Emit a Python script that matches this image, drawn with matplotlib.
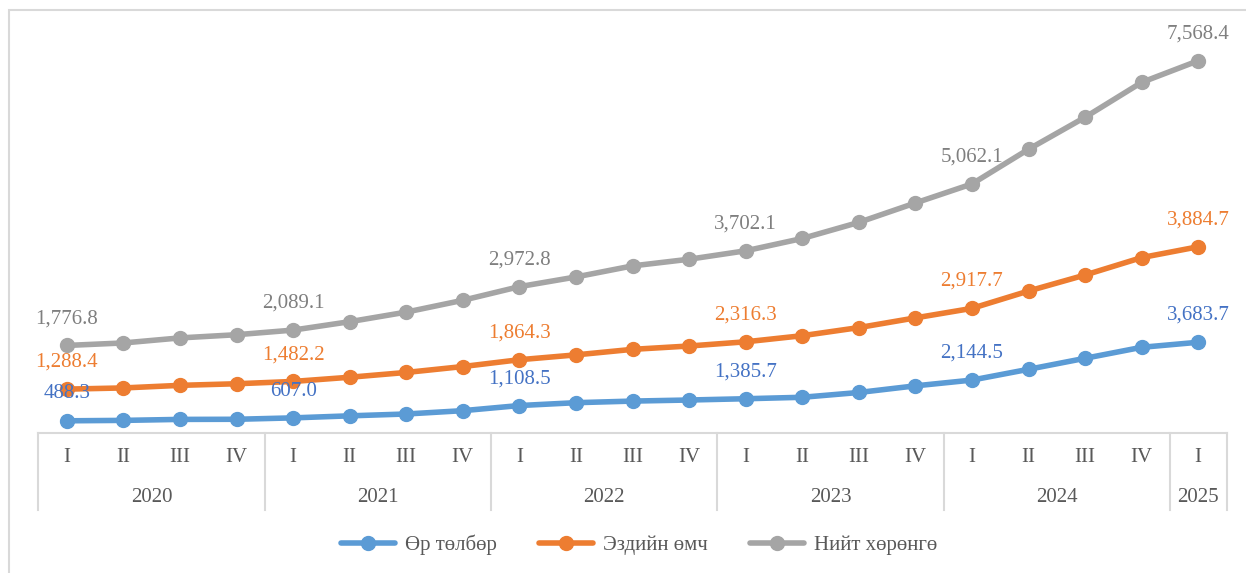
import matplotlib
matplotlib.use("Agg")
import matplotlib.pyplot as plt
import matplotlib.transforms as mtransforms
from matplotlib.patches import Rectangle
import numpy as np

plt.rcParams['font.family'] = ['Liberation Serif', 'DejaVu Serif']

years = ["2020", "2021", "2022", "2023", "2024", "2025"]
quarters = ["I", "II", "III", "IV", "I", "II", "III", "IV", "I", "II", "III", "IV",
            "I", "II", "III", "IV", "I", "II", "III", "IV", "I"]
series_names = ["Өр төлбөр", "Эздийн өмч", "Нийт хөрөнгө"]

debt = [488.3, 505, 545, 550, 607.0, 690, 765, 900, 1108.5, 1225, 1290, 1334,
        1385.7, 1445, 1640, 1910, 2144.5, 2583, 3031, 3478, 3683.7]
equity = [1288.4, 1320, 1385, 1445, 1482.2, 1570, 1690, 1795, 1864.3, 1945, 2105, 2197,
          2316.3, 2505, 2640, 2765, 2917.7, 3185, 3388, 3650, 3884.7]
assets = [1776.8, 1830, 1930, 1995, 2089.1, 2260, 2455, 2695, 2972.8, 3170, 3395, 3530,
          3702.1, 3955, 4280, 4675, 5062.1, 5767, 6418, 7128, 7568.4]

line_colors = ["#5B9BD5", "#ED7D31", "#A5A5A5"]
label_colors = ["#4472C4", "#ED7D31", "#7F7F7F"]
labeled_idx = [0, 4, 8, 12, 16, 20]
FS = 15

W, H = 1246, 573
fig = plt.figure(figsize=(W / 100, H / 100), dpi=100)

# outer chart border
fig.patches.append(Rectangle((9 / W, -0.1), 1.2, 1 - 10 / H + 0.1, transform=fig.transFigure,
                             fill=False, edgecolor="#D9D9D9", linewidth=1.5))

left, right = 38.5, 1226.5
bottom_px, top_px = 432.8, 10
ax = fig.add_axes([left / W, 1 - bottom_px / H, (right - left) / W, (bottom_px - top_px) / H])
ax.set_facecolor("none")

x = np.arange(len(quarters))
stacked = np.cumsum(np.array([debt, equity, assets]), axis=0)
raw = [debt, equity, assets]

for i in range(3):
    ax.plot(x, stacked[i], color=line_colors[i], linewidth=4, marker="o", markersize=10,
            solid_capstyle="round", label=series_names[i], zorder=3 + i)
    for j in labeled_idx:
        ax.annotate(f"{raw[i][j]:,.1f}", (x[j], stacked[i][j]), xytext=(0, 12.5),
                    textcoords="offset points", ha="center", va="bottom",
                    fontsize=FS, color=label_colors[i], zorder=10)

ax.set_xlim(-0.5, len(quarters) - 0.5)
ax.set_ylim(0, (bottom_px - top_px) / 0.02458)
ax.axis("off")

# category axis (multi-level)
trans = mtransforms.blended_transform_factory(ax.transData, ax.transAxes)
hpx = bottom_px - top_px
y_end = -(510 - bottom_px) / hpx
axis_color = "#D9D9D9"
ax.plot([-0.5, len(quarters) - 0.5], [0, 0], transform=trans, color=axis_color,
        linewidth=1.5, clip_on=False, zorder=1)
bounds = [-0.5, 3.5, 7.5, 11.5, 15.5, 19.5, 20.5]
for b in bounds:
    ax.plot([b, b], [0, y_end], transform=trans, color=axis_color, linewidth=1.5,
            clip_on=False, zorder=1)
q_y = -(458 - bottom_px) / hpx
y_y = -(497 - bottom_px) / hpx
for j, q in enumerate(quarters):
    ax.text(x[j], q_y, q, transform=trans, ha="center", va="center", fontsize=FS,
            color="#595959")
for k, yr in enumerate(years):
    ax.text((bounds[k] + bounds[k + 1]) / 2, y_y, yr, transform=trans, ha="center",
            va="center", fontsize=FS, color="#595959")

leg = fig.legend(loc="center", bbox_to_anchor=(0.513, 1 - 545 / H), ncol=3, frameon=False,
                 fontsize=FS, handlelength=2.6, columnspacing=2.0, handletextpad=0.5)
for t in leg.get_texts():
    t.set_color("#595959")

fig.savefig("out.png", dpi=100, facecolor="white")
